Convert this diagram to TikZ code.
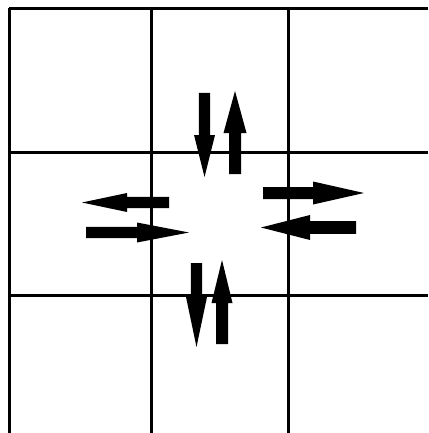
\documentclass[tikz,border=0pt]{standalone}
\newcommand{\hArr}[6]{% tailx, y, basex, tipx, halfshaft, halfhead
  \fill[arrowfill] (#1,#2-#5) -- (#3,#2-#5) -- (#3,#2-#6) -- (#4,#2) -- (#3,#2+#6) -- (#3,#2+#5) -- (#1,#2+#5) -- cycle;}
\newcommand{\vArr}[6]{% x, taily, basey, tipy, halfshaft, halfhead
  \fill[arrowfill] (#1-#5,#2) -- (#1-#5,#3) -- (#1-#6,#3) -- (#1,#4) -- (#1+#6,#3) -- (#1+#5,#3) -- (#1+#5,#2) -- cycle;}
\begin{document}
\begin{tikzpicture}[x=1pt,y=-1pt,
  gridline/.style={line width=3pt,black},
  arrowfill/.style={fill=black}]
\useasboundingbox (0,0) rectangle (428,433);
% grid
\draw[gridline] (9,8.5) -- (9,433);
\draw[gridline] (151,8.5) -- (151,433);
\draw[gridline] (288,8.5) -- (288,433);
\draw[gridline] (9,8.5) -- (428,8.5);
\draw[gridline] (9,152) -- (428,152);
\draw[gridline] (9,295) -- (428,295);
% top pair
\vArr{204.5}{93}{135}{177}{5.7}{10.5}
\vArr{235}{174}{133}{91}{6}{11.5}
% left pair
\hArr{169}{202.5}{127}{82}{5.7}{9.5}
\hArr{86}{232.5}{137}{189}{5.7}{10}
% right pair
\hArr{263}{193}{313}{364}{6}{11.5}
\hArr{356}{227.5}{310}{261}{6.3}{12.5}
% bottom pair
\vArr{196.5}{263}{297}{347}{5.7}{10.5}
\vArr{222}{344}{303}{260}{6}{10.5}
\end{tikzpicture}
\end{document}
